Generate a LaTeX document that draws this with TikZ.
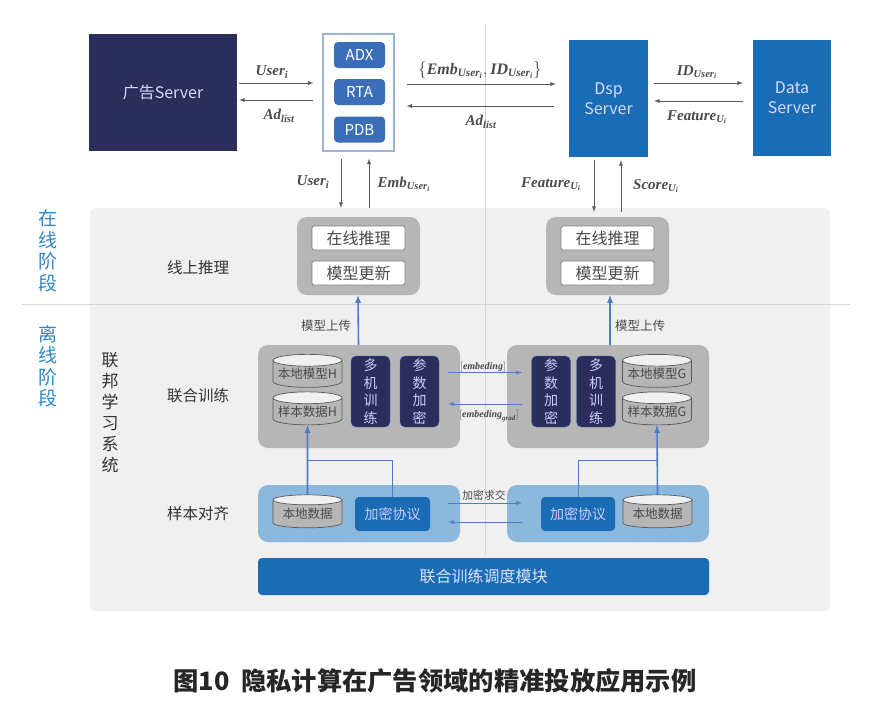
\documentclass[tikz,border=0pt]{standalone}
\usepackage[no-math]{fontspec}
\usepackage{amsmath}
\setmainfont{Noto Sans CJK SC}
\newfontfamily\lblfont{Liberation Serif}
\newcommand{\mv}[1]{\text{\lblfont\bfseries\itshape #1}}
\usetikzlibrary{shapes.geometric}
\definecolor{navybox}{HTML}{2B2D5B}
\definecolor{bluebox}{HTML}{1A6DB5}
\definecolor{tagblue}{HTML}{3B6DB8}
\definecolor{linkblue}{HTML}{4A7CC8}
\definecolor{stageblue}{HTML}{2E86C8}
\definecolor{panelgray}{HTML}{F0F0F0}
\definecolor{groupgray}{HTML}{B6B6B6}
\definecolor{rulegray}{HTML}{D6D6D6}
\definecolor{textgray}{HTML}{4A4A4A}
\definecolor{softblue}{HTML}{8DB8DE}
\definecolor{frameblue}{HTML}{9DB2D6}
\tikzset{
  server/.style={draw=none, text=white!85!blue, font=\fontsize{16}{20}\selectfont, align=center},
  tagbox/.style={fill=tagblue, rounded corners=4pt, text=white, minimum width=51pt, minimum height=26pt, inner sep=0pt, font=\fontsize{15}{18}\selectfont},
  group/.style={fill=groupgray, rounded corners=10pt, inner sep=0pt},
  infer/.style={draw=gray, fill=white, line width=0.8pt, rounded corners=2pt, minimum width=93pt, minimum height=24pt, inner sep=0pt, text=textgray, font=\fontsize{16}{18}\selectfont},
  stack/.style={fill=navybox, draw=tagblue, rounded corners=5pt, minimum width=39pt, minimum height=71pt, inner sep=0pt, text=white!80!blue, align=center, font=\fontsize{14}{17.5}\selectfont},
  dbcyl/.style={cylinder, shape border rotate=90, aspect=0.2, draw=black!65, line width=0.7pt, cylinder uses custom fill, cylinder body fill=groupgray, cylinder end fill=panelgray, minimum width=69pt, minimum height=33pt, inner sep=0pt, text=textgray, font=\fontsize{12.5}{14}\selectfont},
  protobox/.style={fill=bluebox, rounded corners=4pt, minimum width=75pt, minimum height=34pt, inner sep=0pt, text=white!80!blue, font=\fontsize{14}{16}\selectfont},
  rowlabel/.style={text=black!80, font=\fontsize{15.5}{18}\selectfont},
  smalllabel/.style={text=textgray, font=\fontsize{12.5}{14}\selectfont},
  stagelabel/.style={text=stageblue, align=center, font=\fontsize{19}{21.5}\selectfont},
  mathlabel/.style={text=textgray, font=\fontsize{15}{17}\selectfont},
  tinymath/.style={text=textgray, font=\fontsize{10}{12}\selectfont},
  graylink/.style={-latex, draw=black!65, line width=0.9pt},
  bluelink/.style={-latex, draw=linkblue, line width=0.9pt},
  thicklink/.style={-latex, draw=linkblue, line width=1.6pt},
}
\begin{document}
\begin{tikzpicture}[x=1pt, y=-1pt]
\useasboundingbox (0,0) rectangle (880,726);
% Panel and rules
\node[fill=panelgray, rounded corners=6pt, minimum width=740pt, minimum height=403pt, inner sep=0pt] (panel) at (460,409.5) {};
\coordinate (vtop) at (485,24);
\coordinate (vbot) at (485,555);
\coordinate (hleft) at (22,304);
\coordinate (hright) at (850,304);
\draw[rulegray, line width=1pt] (vtop) -- (vbot);
\draw[rulegray, line width=1pt] (hleft) -- (hright);

% Top row
\node[server, fill=navybox, minimum width=148pt, minimum height=117pt] (adsrv) at (163,92.5) {广告Server};
\node[draw=frameblue, line width=1.2pt, fill=white, minimum width=71pt, minimum height=117pt, inner sep=0pt] (adxbox) at (358.5,92.5) {};
\node[tagbox] (adx) at (359.5,55) {ADX};
\node[tagbox] (rta) at (359.5,92) {RTA};
\node[tagbox] (pdb) at (359.5,129.5) {PDB};
\node[server, fill=bluebox, minimum width=79pt, minimum height=117pt] (dsp) at (608.5,98.5) {Dsp\\Server};
\node[server, fill=bluebox, minimum width=78pt, minimum height=116pt] (datasrv) at (792,98) {Data\\Server};

% Inference groups
\node[group, minimum width=123pt, minimum height=78pt] (infl) at (358.5,256) {};
\node[infer] (onl) at (358.5,238) {在线推理};
\node[infer] (updl) at (358.5,273) {模型更新};
\node[group, minimum width=123pt, minimum height=78pt] (infr) at (607.5,256) {};
\node[infer] (onr) at (607.5,238) {在线推理};
\node[infer] (updr) at (607.5,273) {模型更新};

% Training groups
\node[group, minimum width=202pt, minimum height=103pt] (trainl) at (359,396.5) {};
\node[group, minimum width=202pt, minimum height=103pt] (trainr) at (608,396.5) {};
\node[dbcyl] (modelh) at (307.5,374) {本地模型H};
\node[dbcyl] (datah) at (307.5,411.5) {样本数据H};
\node[stack] (multil) at (370.5,391.5) {多\\机\\训\\练};
\node[stack] (encl) at (419.5,391.5) {参\\数\\加\\密};
\node[stack] (encr) at (551,391.5) {参\\数\\加\\密};
\node[stack] (multir) at (596,391.5) {多\\机\\训\\练};
\node[dbcyl] (modelg) at (657,374) {本地模型G};
\node[dbcyl] (datag) at (657,411.5) {样本数据G};

% Alignment groups
\node[group, fill=softblue, minimum width=202pt, minimum height=57pt] (alignl) at (359,513.5) {};
\node[group, fill=softblue, minimum width=202pt, minimum height=57pt] (alignr) at (608,513.5) {};
\node[dbcyl] (locall) at (307.5,514) {本地数据};
\node[protobox] (protol) at (392.5,514) {加密协议};
\node[protobox, minimum width=74pt] (protor) at (578,514) {加密协议};
\node[dbcyl] (localr) at (657.5,514) {本地数据};
\node[fill=bluebox, rounded corners=4pt, minimum width=451pt, minimum height=37pt, inner sep=0pt, text=white!88!blue, font=\fontsize{16}{18}\selectfont] (sched) at (483.5,576.5) {联合训练调度模块};

% Side labels
\node[stagelabel] (online) at (48,251) {在\\线\\阶\\段};
\node[stagelabel] (offline) at (48,366) {离\\线\\阶\\段};
\node[text=black!80, align=center, font=\fontsize{17}{21}\selectfont] (fedsys) at (110,413) {联\\邦\\学\\习\\系\\统};
\node[rowlabel] (rowinf) at (198,268) {线上推理};
\node[rowlabel] (rowtrain) at (198,396) {联合训练};
\node[rowlabel] (rowalign) at (198,514) {样本对齐};

% Arrows top
\draw[graylink] ([shift={(2,-9.5)}]adsrv.east) -- ([shift={(-9,-9.5)}]adxbox.west);
\draw[graylink] ([shift={(-9,7.5)}]adxbox.west) -- ([shift={(2,7.5)}]adsrv.east);
\draw[graylink] ([shift={(12,-8.5)}]adxbox.east) -- ([shift={(-13,-14.5)}]dsp.west);
\draw[graylink] ([shift={(-15,7.5)}]dsp.west) -- ([shift={(12,13.5)}]adxbox.east);
\draw[graylink] ([shift={(6,-15.5)}]dsp.east) -- ([shift={(-10,-15)}]datasrv.west);
\draw[graylink] ([shift={(-10,3)}]datasrv.west) -- ([shift={(6,2.5)}]dsp.east);
\draw[graylink] ([shift={(-17.5,7)}]adxbox.south) -- ([xshift=-17.5pt]adxbox.south |- panel.north);
\draw[graylink] ([xshift=10.5pt]adxbox.south |- panel.north) -- ([shift={(10.5,7)}]adxbox.south);
\draw[graylink] ([shift={(-14.5,3)}]dsp.south) -- ([shift={(-14.5,4)}]dsp.south |- panel.north);
\draw[graylink] ([shift={(12.5,4)}]dsp.south |- panel.north) -- ([shift={(12.5,3)}]dsp.south);

% Arrows middle
\draw[thicklink] ([xshift=-0.5pt]trainl.north) -- ([xshift=-0.5pt]infl.south);
\draw[thicklink] ([xshift=2pt]trainr.north) -- ([xshift=2.5pt]infr.south);
\draw[bluelink] ([shift={(-12,-24)}]trainl.east) -- ([shift={(15,-24)}]trainr.west);
\draw[bluelink] ([shift={(15,7.5)}]trainr.west) -- ([shift={(-12,7.5)}]trainl.east);
\draw[bluelink] ([shift={(-12,-10.5)}]alignl.east) -- ([shift={(15,-10.5)}]alignr.west);
\draw[bluelink] ([shift={(15,8.5)}]alignr.west) -- ([shift={(-12,8.5)}]alignl.east);

% Arrows bottom
\draw[thicklink] (locall.north) -- (datah.south);
\draw[thicklink] (localr.north) -- (datag.south);
\draw[linkblue, line width=0.9pt] (protol.north) |- ([yshift=-35pt]datah.south);
\draw[linkblue, line width=0.9pt] (protor.north) |- ([yshift=-35pt]datag.south);

% Math labels
\node[mathlabel] (lblu1) at (272,72) {$\mv{User}_{\mv{i}}$};
\node[mathlabel] (lblad1) at (279,116) {$\mv{Ad}_{\mv{list}}$};
\node[mathlabel, font=\fontsize{16}{18}\selectfont] (lblemb) at (480,70) {$\{\mv{Emb}_{\mv{User}_{\mv{i}}},\mv{ID}_{\mv{User}_{\mv{i}}}\}$};
\node[mathlabel] (lblad2) at (481,122) {$\mv{Ad}_{\mv{list}}$};
\node[mathlabel] (lblid) at (697,72) {$\mv{ID}_{\mv{User}_{\mv{i}}}$};
\node[mathlabel] (lblfeat) at (697,117) {$\mv{Feature}_{\mv{U}_{\mv{i}}}$};
\node[mathlabel] (lblu2) at (313,182) {$\mv{User}_{\mv{i}}$};
\node[mathlabel] (lblemb2) at (404,184) {$\mv{Emb}_{\mv{User}_{\mv{i}}}$};
\node[mathlabel] (lblfeat2) at (551,184) {$\mv{Feature}_{\mv{U}_{\mv{i}}}$};
\node[mathlabel] (lblscore) at (656,186) {$\mv{Score}_{\mv{U}_{\mv{i}}}$};
\node[tinymath] (lblembd) at (483,367) {$[\mv{embeding}]$};
\node[tinymath] (lblgrad) at (489,416) {$[\mv{embeding}_{\mv{grad}}]$};

% Small labels and caption
\node[smalllabel] (upl) at (326,326) {模型上传};
\node[smalllabel] (upr) at (640,326) {模型上传};
\node[text=textgray, font=\fontsize{10.8}{12}\selectfont] (psi) at (484,495) {加密求交};
\node[text=black!85, font=\fontsize{25.3}{28}\selectfont\bfseries] (caption) at (435,681) {图10\ \ 隐私计算在广告领域的精准投放应用示例};
\end{tikzpicture}
\end{document}
